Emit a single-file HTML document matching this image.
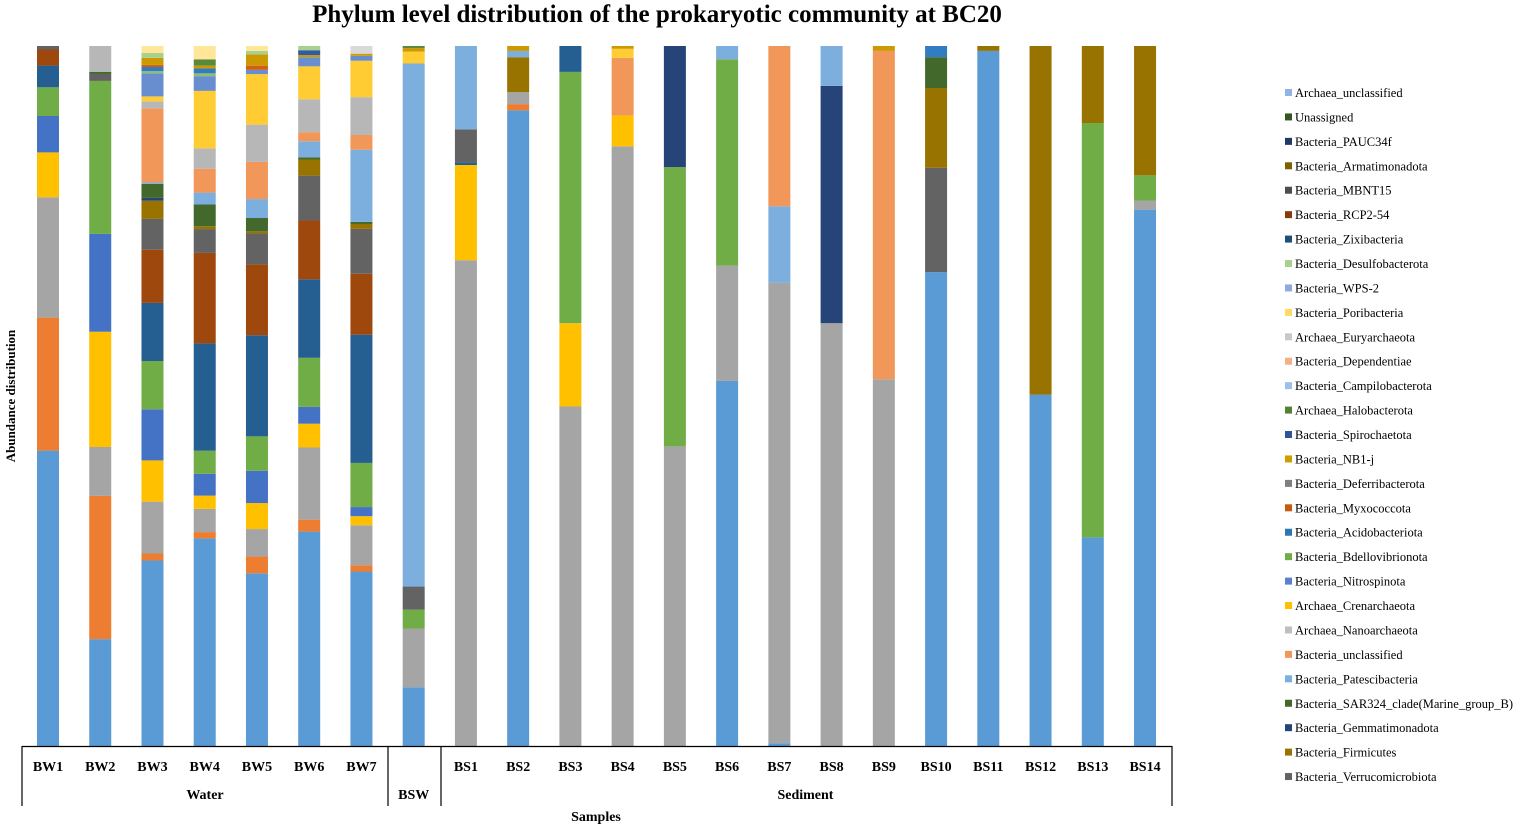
<!DOCTYPE html>
<html><head><meta charset="utf-8"><style>
body{margin:0;background:#fff;width:1535px;height:828px;overflow:hidden}
svg{display:block;font-family:"Liberation Serif",serif}
</style></head><body>
<svg id="chart" width="1535" height="828">
<text x="657" y="22" text-anchor="middle" font-size="25" font-weight="bold">Phylum level distribution of the prokaryotic community at BC20</text>
<text transform="translate(15,396) rotate(-90)" text-anchor="middle" font-size="13" font-weight="bold">Abundance  distribution</text>
<text x="596" y="821" text-anchor="middle" font-size="14" font-weight="bold">Samples</text>
<g id="bars"></g>
<g id="axis"></g>
<g id="legend"></g>
</svg>
<script>
const categories=["BW1","BW2","BW3","BW4","BW5","BW6","BW7","BSW","BS1","BS2","BS3","BS4","BS5","BS6","BS7","BS8","BS9","BS10","BS11","BS12","BS13","BS14"];
const seriesColors=["#5B9BD5","#ED7D31","#A5A5A5","#FFC000","#4472C4","#70AD47","#255E91","#9E480E","#636363","#997300","#264478","#43682B","#7CAFDD","#F1975A","#B7B7B7","#FFCD33","#698ED0","#8CC168","#327DC2","#D26012","#CC9A00","#335AA1","#5A8A39","#A9D18E","#FFE699","#D9D9D9"];
const s1=[42.2,15.3,26.5,29.6,24.6,30.6,24.9,8.4,0,90.8,0,0,0,52.2,0.4,0,0,67.7,99.3,50.2,29.8,76.7];
const s2=[19,20.5,1,0.9,2.4,1.7,0.9,0,0,0.9,0,0,0,0,0,0,0,0,0,0,0,0];
const s3=[17.2,7,7.4,3.3,3.9,10.3,5.7,8.4,69.4,1.7,48.5,85.5,42.8,16.5,65.8,60.4,52.4,0,0,0,0,1.3];
const s4=[6.4,16.5,5.9,1.9,3.7,3.4,1.3,0,13.6,0,11.9,4.4,0,0,0,0,0,0,0,0,0,0];
const s5=[5.2,14,7.3,3.1,4.6,2.4,1.3,0,0,0,0,0,0,0,0,0,0,0,0,0,0,0];
const s6=[4.1,21.9,6.9,3.3,4.9,7,6.3,2.7,0,0,35.9,0,39.9,29.5,0,0,0,0,0,0,59.2,3.6];
const s7=[3.1,0,8.3,15.3,14.4,11.2,18.3,0,0.4,0,3.7,0,0,0,0,0,0,0,0,0,0,0];
const s8=[2.3,0,7.6,12.9,10.1,8.4,8.7,0,0,0,0,0,0,0,0,0,0,0,0,0,0,0];
const s9=[0.5,1,4.4,3.4,4.4,6.4,6.4,3.3,4.7,0,0,0,0,0,0,0,0,14.9,0,0,0,0];
const s10=[0,0,2.6,0.4,0.3,2.3,0.7,0,0,5,0,0,0,0,0,0,0,11.4,0.7,49.8,11,18.5];
const s11=[0,0,0.4,0,0,0,0,0,0,0,0,0,17.3,0,0,33.9,0,0,0,0,0,0];
const s12=[0,0.3,2,3.1,1.9,0.3,0.3,0,0,0,0,0,0,0,0,0,0,4.4,0,0,0,0];
const s13=[0,0,0.2,1.7,2.7,2.3,10.3,74.8,11.9,0.9,0,0,0,1.9,10.9,5.7,0,0,0,0,0,0];
const s14=[0,0,10.6,3.4,5.3,1.3,2.1,0,0,0,0,8.2,0,0,22.9,0,46.9,0,0,0,0,0];
const s15=[0,3.7,1,2.9,5.3,4.7,5.4,0,0,0,0,0,0,0,0,0,0,0,0,0,0,0];
const s16=[0,0,0.7,8.2,7.2,4.7,5.2,1.7,0,0,0,1.3,0,0,0,0,0,0,0,0,0,0];
const s17=[0,0,3.3,2.1,0.6,1.3,0.7,0,0,0,0,0,0,0,0,0,0,0,0,0,0,0];
const s18=[0,0,0.3,0.4,0,0,0,0,0,0,0,0,0,0,0,0,0,0,0,0,0,0];
const s19=[0,0,0.6,0.7,0,0,0,0,0,0,0,0,0,0,0,0,0,1.6,0,0,0,0];
const s20=[0,0,0.3,0,0.6,0,0,0,0,0,0,0,0,0,0,0,0,0,0,0,0,0];
const s21=[0,0,1,0.4,1.6,0.3,0.3,0.5,0,0.7,0,0.4,0,0,0,0,0.7,0,0,0,0,0];
const s22=[0,0,0,0,0,0.7,0,0,0,0,0,0,0,0,0,0,0,0,0,0,0,0];
const s23=[0,0,0,0.9,0,0,0,0.3,0,0,0,0,0,0,0,0,0,0,0,0,0,0];
const s24=[0,0,0.7,0,0.5,0.6,0,0,0,0,0,0,0,0,0,0,0,0,0,0,0,0];
const s25=[0,0,1,1.9,0.7,0,0,0,0,0,0,0,0,0,0,0,0,0,0,0,0,0];
const s26=[0,0,0,0,0,0,1.1,0,0,0,0,0,0,0,0,0,0,0,0,0,0,0];
const seriesValues=[s1,s2,s3,s4,s5,s6,s7,s8,s9,s10,s11,s12,s13,s14,s15,s16,s17,s18,s19,s20,s21,s22,s23,s24,s25,s26];
const legendNames=["Archaea_unclassified","Unassigned","Bacteria_PAUC34f","Bacteria_Armatimonadota","Bacteria_MBNT15","Bacteria_RCP2-54","Bacteria_Zixibacteria","Bacteria_Desulfobacterota","Bacteria_WPS-2","Bacteria_Poribacteria","Archaea_Euryarchaeota","Bacteria_Dependentiae","Bacteria_Campilobacterota","Archaea_Halobacterota","Bacteria_Spirochaetota","Bacteria_NB1-j","Bacteria_Deferribacterota","Bacteria_Myxococcota","Bacteria_Acidobacteriota","Bacteria_Bdellovibrionota","Bacteria_Nitrospinota","Archaea_Crenarchaeota","Archaea_Nanoarchaeota","Bacteria_unclassified","Bacteria_Patescibacteria","Bacteria_SAR324_clade(Marine_group_B)","Bacteria_Gemmatimonadota","Bacteria_Firmicutes","Bacteria_Verrucomicrobiota"];
const legendColors=["#8DB4E2","#375623","#1F3864","#7F6000","#4D4D4D","#843C0C","#1F4E79","#A9D08E","#8EA9DB","#FFD966","#C9C9C9","#F4B084","#9BC2E6","#548235","#2F5597","#C9A000","#7F7F7F","#C55A11","#2E75B6","#70AD47","#5B7FD1","#FFC000","#BFBFBF","#F1975A","#7CAFDD","#43682B","#264478","#997300","#636363"];
const groups=[{name:"Water",from:0,to:6},{name:"BSW",from:7,to:7},{name:"Sediment",from:8,to:21}];

const NS="http://www.w3.org/2000/svg";
const yBottom=746,yTop=46,x0=48,step=52.24,bw=22;
function xScale(i){return x0+i*step;}
function yScale(p){return yBottom-(yBottom-yTop)*p/100;}
function mk(tag,attrs,parent){const e=document.createElementNS(NS,tag);for(const k in attrs)e.setAttribute(k,attrs[k]);parent.appendChild(e);return e;}
const gb=document.getElementById("bars");
categories.forEach((c,i)=>{
  let total=0;seriesValues.forEach(s=>total+=s[i]);
  let cum=0;
  seriesValues.forEach((s,k)=>{
    const v=s[i];if(!v)return;
    const p0=cum/total*100;cum+=v;const p1=cum/total*100;
    const r=mk("rect",{x:xScale(i)-bw/2,y:yScale(p1),width:bw,height:yScale(p0)-yScale(p1),fill:seriesColors[k]},gb);
    
    
  });
  if(c==="BSW")return;
  const t=mk("text",{x:xScale(i),y:771,"text-anchor":"middle","font-size":14,"font-weight":"bold"},document.getElementById("axis"));
  t.textContent=c;
  
  
});
const ga=document.getElementById("axis");
const bl=mk("line",{x1:22,x2:1172,y1:746.5,y2:746.5,stroke:"#000","stroke-width":1.2},ga);


const seps=[22,388,441,1172];
seps.forEach(x=>{const l=mk("line",{x1:x,x2:x,y1:746,y2:806,stroke:"#000","stroke-width":1.2},ga);
  
  });
groups.forEach(g=>{
  const cx=(xScale(g.from)+xScale(g.to))/2;
  const t=mk("text",{x:g.name==="Water"?205:cx,y:799,"text-anchor":"middle","font-size":14,"font-weight":"bold"},ga);
  t.textContent=g.name;
  
  
});
const gl=document.getElementById("legend");
legendNames.forEach((n,j)=>{
  const y=93+j*24.43;
  const r=mk("rect",{x:1285,y:y-4,width:7,height:7,fill:legendColors[j]},gl);
  
  
  const t=mk("text",{x:1295,y:y+4,"font-size":12.5},gl);
  t.textContent=n;
  
  
});
</script>
</body></html>
